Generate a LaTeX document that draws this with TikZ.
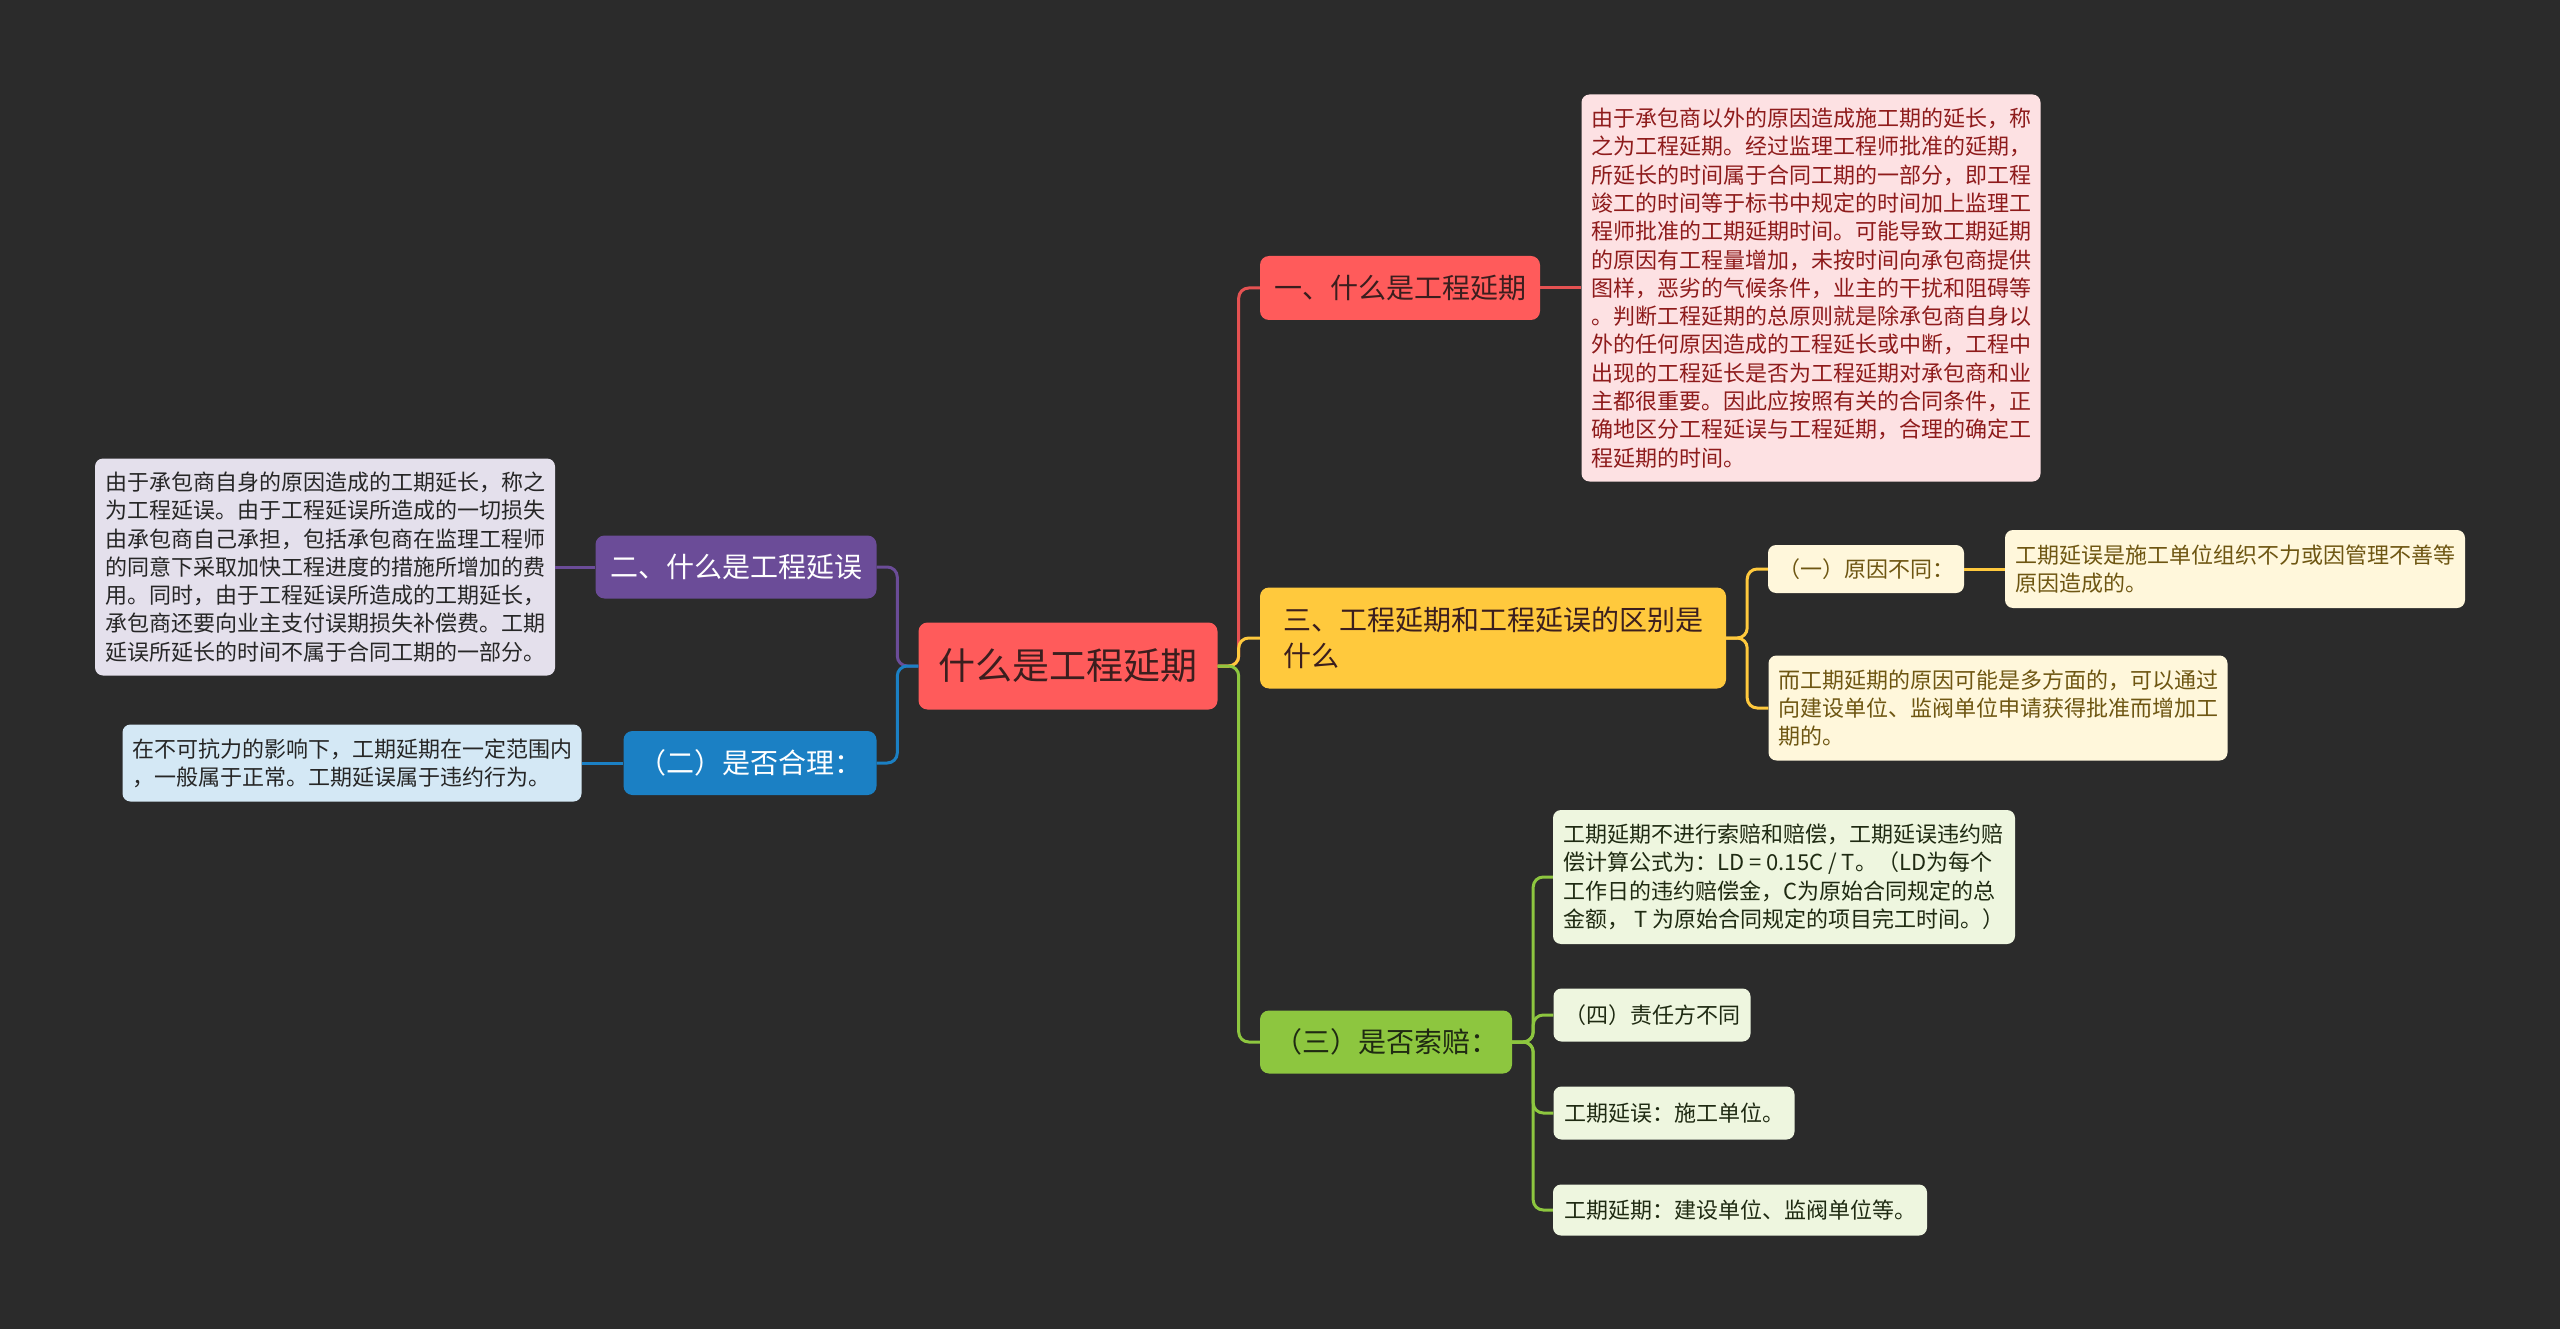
\documentclass[tikz,border=0pt]{standalone}
\usepackage{fontspec}
\setmainfont{Noto Sans CJK SC}

\definecolor{bg}{HTML}{2B2B2B}
\definecolor{redc}{HTML}{FF5B5B}
\definecolor{redl}{HTML}{FDE1E3}
\definecolor{redt}{HTML}{8E1B1B}
\definecolor{yelc}{HTML}{FFC93D}
\definecolor{yell}{HTML}{FFF7DB}
\definecolor{yelt}{HTML}{6E5612}
\definecolor{grnc}{HTML}{8DC63F}
\definecolor{grnl}{HTML}{EEF6DF}
\definecolor{grnt}{HTML}{1F2A12}
\definecolor{purc}{HTML}{6B4C98}
\definecolor{purl}{HTML}{E4E0EC}
\definecolor{bluc}{HTML}{1B80C4}
\definecolor{blul}{HTML}{D4E8F5}
\definecolor{dark}{HTML}{3B1E1E}

\begin{document}
\begin{tikzpicture}[x=1pt,y=-1pt,
		sz/.style 2 args={minimum width=#1,minimum height=#2},
		topic/.style={rounded corners=9pt,inner sep=0pt,align=center,font=\fontsize{28}{36}\selectfont},
		note/.style={rounded corners=8pt,inner sep=0pt,align=left,font=\fontsize{22}{28.3}\selectfont},
		link/.style={line width=3pt,rounded corners=10pt}]
				\fill[bg] (0,0) rectangle (2560,1329);

				% centre and first level
				\node[topic,sz={299}{87},fill=redc,text=dark,font=\fontsize{37}{44}\selectfont] (root) at (1068,666) {什么是工程延期};
				\node[topic,sz={280}{64},fill=redc,text=dark] (one) at (1400,288) {一、什么是工程延期};
				\node[topic,sz={466}{101},fill=yelc,text=dark,align=left] (three) at (1493,638) {三、工程延期和工程延误的区别是\\什么};
				\node[topic,sz={252}{63},fill=grnc,text=grnt] (claim) at (1386,1042) {（三）是否索赔：};
				\node[topic,sz={281}{63},fill=purc,text=white] (two) at (736,567) {二、什么是工程延误};
				\node[topic,sz={253}{64},fill=bluc,text=white] (fair) at (750,763) {（二）是否合理：};

				% notes
				\node[note,sz={459}{387},fill=redl,text=redt] (onenote) at (1811,288) {由于承包商以外的原因造成施工期的延长，称\\之为工程延期。经过监理工程师批准的延期，\\所延长的时间属于合同工期的一部分，即工程\\竣工的时间等于标书中规定的时间加上监理工\\程师批准的工期延期时间。可能导致工期延期\\的原因有工程量增加，未按时间向承包商提供\\图样，恶劣的气候条件，业主的干扰和阻碍等\\。判断工程延期的总原则就是除承包商自身以\\外的任何原因造成的工程延长或中断，工程中\\出现的工程延长是否为工程延期对承包商和业\\主都很重要。因此应按照有关的合同条件，正\\确地区分工程延误与工程延期，合理的确定工\\程延期的时间。};
				\node[note,sz={196}{48},fill=yell,text=yelt,align=center] (cause) at (1866,569) {（一）原因不同：};
				\node[note,sz={460}{78},fill=yell,text=yelt] (causenote) at (2235,569) {工期延误是施工单位组织不力或因管理不善等\\原因造成的。};
				\node[note,sz={459}{105},fill=yell,text=yelt] (extnote) at (1998,708) {而工期延期的原因可能是多方面的，可以通过\\向建设单位、监阀单位申请获得批准而增加工\\期的。};
				\node[note,sz={462}{134},fill=grnl,text=grnt] (formula) at (1784,877) {工期延期不进行索赔和赔偿，工期延误违约赔\\偿计算公式为：LD = 0.15C / T。（LD为每个\\工作日的违约赔偿金，C为原始合同规定的总\\金额， T 为原始合同规定的项目完工时间。）};
				\node[note,sz={197}{53},fill=grnl,text=grnt,align=center] (duty) at (1652,1015) {（四）责任方不同};
				\node[note,sz={241}{53},fill=grnl,text=grnt,align=center] (delayunit) at (1674,1113) {工期延误：施工单位。};
				\node[note,sz={374}{51},fill=grnl,text=grnt,align=center] (extunit) at (1740,1210) {工期延期：建设单位、监阀单位等。};
				\node[note,sz={460}{217},fill=purl,text=black!85] (twonote) at (325,567) {由于承包商自身的原因造成的工期延长，称之\\为工程延误。由于工程延误所造成的一切损失\\由承包商自己承担，包括承包商在监理工程师\\的同意下采取加快工程进度的措施所增加的费\\用。同时，由于工程延误所造成的工期延长，\\承包商还要向业主支付误期损失补偿费。工期\\延误所延长的时间不属于合同工期的一部分。};
				\node[note,sz={459}{77},fill=blul,text=black!85] (fairnote) at (352,763) {在不可抗力的影响下，工期延期在一定范围内\\，一般属于正常。工期延误属于违约行为。};

				% links
				\draw[link,redc!90!black] (root.east) -- ++(21,0) |- (one.west);
				\draw[link,yelc] (root.east) -- ++(21,0) |- (three.west);
				\draw[link,grnc] (root.east) -- ++(21,0) |- (claim.west);
				\draw[link,purc] (root.west) -- ++(-21,0) |- (two.east);
				\draw[link,bluc] (root.west) -- ++(-21,0) |- (fair.east);

				\draw[link,redc!90!black] (one.east) -- (onenote.west);
				\draw[link,yelc] (three.east) -- ++(21,0) |- (cause.west);
				\draw[link,yelc] (three.east) -- ++(21,0) |- (extnote.west);
				\draw[link,yelc] (cause.east) -- (causenote.west);
				\foreach \n in {formula,duty,delayunit,extunit}
					\draw[link,grnc] (claim.east) -- ++(21,0) |- (\n.west);
				\draw[link,purc] (two.west) -- (twonote.east);
				\draw[link,bluc] (fair.west) -- (fairnote.east);
			\end{tikzpicture}
\end{document}
